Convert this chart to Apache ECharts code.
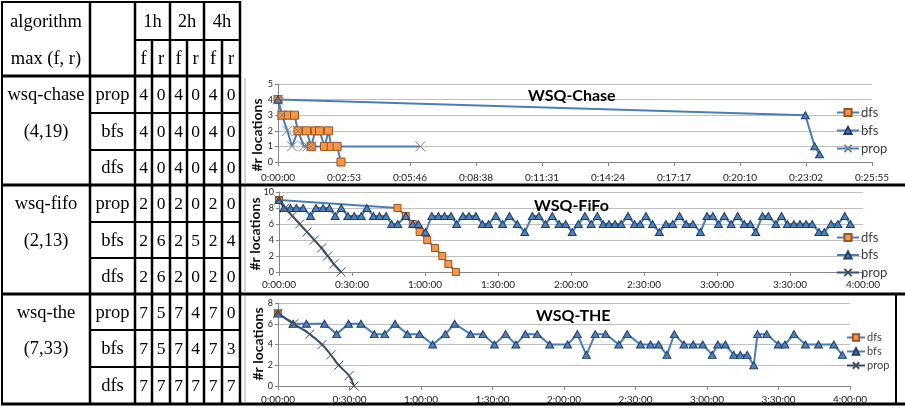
<!DOCTYPE html>
<html>
<head>
<meta charset="utf-8">
<script src="https://cdn.jsdelivr.net/npm/echarts@6/dist/echarts.min.js"></script>
<style>
  html, body { margin: 0; padding: 0; background: #ffffff; }
  #main { width: 905px; height: 408px; }
</style>
</head>
<body>
<div id="main"></div>
<script>
// ---- table content ----
const algorithms = ['wsq-chase', 'wsq-fifo', 'wsq-the'];
const maxFR = ['(4,19)', '(2,13)', '(7,33)'];
const strategies = ['prop', 'bfs', 'dfs'];
const hours = ['1h', '2h', '4h'];
const fr = ['f', 'r'];
// rows: prop, bfs, dfs ; columns: 1h f, 1h r, 2h f, 2h r, 4h f, 4h r
const chaseCounts = [[4, 0, 4, 0, 4, 0], [4, 0, 4, 0, 4, 0], [4, 0, 4, 0, 4, 0]];
const fifoCounts  = [[2, 0, 2, 0, 2, 0], [2, 6, 2, 5, 2, 4], [2, 6, 2, 0, 2, 0]];
const theCounts   = [[7, 5, 7, 4, 7, 0], [7, 5, 7, 4, 7, 3], [7, 7, 7, 7, 7, 7]];
const tableCounts = [chaseCounts, fifoCounts, theCounts];

// ---- chart data: elapsed time in minutes, number of r locations ----
const chaseTitle = 'WSQ-Chase';
const chaseDfsTime = [0, 0.17, 0.45, 0.72, 0.87, 1.24, 1.45, 1.63, 1.81, 2.03, 2.21, 2.32, 2.58, 2.75];
const chaseDfsLoc  = [4, 3, 3, 3, 2, 2, 1, 2, 2, 1, 2, 1, 1, 0];
const chaseBfsTime = [0, 23.01, 23.42, 23.63];
const chaseBfsLoc  = [4, 3, 1, 0.5];
const chasePropTime = [0, 0.17, 0.41, 0.61, 0.87, 1.13, 1.28, 1.45, 6.21];
const chasePropLoc  = [4, 3, 2, 1, 2, 1, 1, 1, 1];

const fifoTitle = 'WSQ-FiFo';
const fifoDfsTime = [0, 48.7, 52.1, 55.0, 57.8, 60.9, 64.1, 67.1, 69.6, 72.7];
const fifoDfsLoc  = [9, 8, 7, 6, 5, 4, 3, 2, 1, 0];
const fifoBfsTime = [0, 2.0, 4.7, 7.1, 9.9, 13.0, 15.2, 18.1, 20.7, 23.1, 25.6, 28.3, 30.9, 33.8, 36.1,
  38.8, 41.3, 44.0, 46.3, 48.8, 52.1, 55.0, 57.3, 60.2, 62.8, 65.5, 68.0, 70.7, 73.0, 75.6, 78.1, 80.9,
  83.6, 86.1, 89.1, 91.9, 94.7, 97.9, 101.0, 104.1, 106.8, 109.5, 112.3, 115.1, 117.8, 120.5, 123.0,
  125.7, 128.3, 130.8, 133.2, 135.6, 138.1, 140.6, 143.4, 146.1, 148.4, 150.8, 153.5, 156.3, 159.0,
  161.8, 164.6, 167.3, 170.1, 173.2, 175.9, 178.3, 180.6, 183.0, 185.8, 188.5, 191.2, 193.7, 195.9,
  198.7, 201.1, 204.2, 206.5, 208.9, 211.6, 214.1, 216.6, 219.1, 221.9, 224.1, 226.9, 229.7, 232.5, 234.8];
const fifoBfsLoc = [9, 8, 8, 8, 8, 7, 8, 8, 8, 7, 8, 7, 7, 7, 8,
  7, 7, 7, 6, 6, 7, 6, 6, 5, 7, 7, 7, 7, 6, 7, 7, 7,
  6, 6, 7, 6, 7, 6, 5, 7, 7, 6, 7, 6, 6, 5, 6,
  7, 6, 7, 6, 6, 6, 6, 7, 6, 6, 7, 6, 5, 6,
  6, 7, 6, 6, 5, 7, 7, 6, 7, 6, 7, 6, 6, 5,
  7, 7, 6, 7, 6, 6, 6, 6, 6, 5, 5, 6, 6, 7, 6];
const fifoPropTime = [0, 2.5, 5.5, 8.5, 11.5, 14.5, 17.5, 20.0, 22.5, 25.5];
const fifoPropLoc  = [9, 8, 7, 6, 5, 4, 3, 2, 1, 0];

const theTitle = 'WSQ-THE';
const theDfsTime = [0];
const theDfsLoc  = [7];
const theBfsTime = [0, 6.3, 11.9, 19.5, 24.6, 29.6, 34.8, 40.4, 44.8, 49.1, 54.3, 59.4, 64.9, 70.2,
  74.1, 80.8, 86.0, 90.8, 95.5, 99.8, 103.8, 108.8, 114.0, 121.5, 125.6, 129.4, 133.1, 137.5, 143.0,
  146.5, 152.1, 156.3, 159.7, 163.2, 166.3, 170.3, 174.2, 178.2, 182.2, 184.5, 187.7, 191.2, 194.0,
  196.9, 199.6, 201.2, 205.1, 209.9, 212.7, 216.5, 221.3, 226.8, 233.2, 236.8];
const theBfsLoc = [7, 6, 6, 6, 5, 6, 6, 5, 5, 6, 5, 5, 4, 5,
  6, 5, 5, 4, 5, 4, 5, 5, 4, 4, 5, 3, 5, 5, 4,
  5, 4, 4, 4, 3, 5, 4, 4, 4, 3, 4, 4, 3, 3,
  3, 2, 5, 5, 4, 4, 5, 4, 4, 4, 3];
const thePropTime = [0, 6.6, 13.3, 18.5, 22.2, 25.5, 29.8, 31.9];
const thePropLoc  = [7, 6, 5, 4, 3, 2, 1, 0];

const seriesKinds = ['dfs', 'bfs', 'prop'];
const yAxisName = '#r locations';

// ---- helpers ----
function pairs(t, v) { return t.map((x, i) => [x, v[i]]); }
function pad2(n) { return (n < 10 ? '0' : '') + n; }
function clock(minutes) {
  const s = Math.round(minutes * 60);
  const h = Math.floor(s / 3600);
  const m = Math.floor((s % 3600) / 60);
  return h + ':' + pad2(m) + ':' + pad2(s % 60);
}

const SERIF = '"Liberation Serif", "DejaVu Serif", serif';
const SANS = 'Lato, "Open Sans", sans-serif';
const BLUE = '#4a7ebb';

// ---- table drawn as graphic elements ----
const colX = [2, 90, 135, 152, 170, 187, 204, 222, 240];
const rowY = [2, 40, 76, 113, 150, 185, 222, 258, 294, 330, 367, 404];
const graphics = [];
function hline(x1, x2, y, w) {
  graphics.push({ type: 'line', silent: true, shape: { x1: x1, y1: y, x2: x2, y2: y },
    style: { stroke: '#000', lineWidth: w } });
}
function vline(x, y1, y2, w, c) {
  graphics.push({ type: 'line', silent: true, shape: { x1: x, y1: y1, x2: x, y2: y2 },
    style: { stroke: c || '#000', lineWidth: w } });
}
function cellText(str, cx, cy, size) {
  graphics.push({ type: 'text', silent: true, x: cx, y: cy,
    style: { text: str, fill: '#000', font: (size || 17) + 'px ' + SERIF,
      align: 'center', verticalAlign: 'middle', textAlign: 'center', textVerticalAlign: 'middle' } });
}

// borders
hline(1, 241, 2, 2);
vline(2, 1, 405, 2);
vline(240, 1, 405, 2.5);
[90, 135, 170, 204].forEach(x => vline(x, 2, 404, 2.5));
[152, 187, 222].forEach(x => vline(x, 40, 404, 2.5));
hline(135, 240, 40, 2);
hline(1, 241, 76, 3);
[113, 150, 222, 258, 330, 367].forEach(y => hline(90, 240, y, 2));
[185, 294, 404].forEach(y => hline(1, 905, y, 3));
vline(896, 294, 404, 2);
// chart frames
vline(245, 78, 184, 1, '#a6a6a6');
vline(245, 187, 293, 1, '#a6a6a6');
vline(245, 296, 403, 1, '#a6a6a6');

const WORD = 18.5, DIGIT = 17.5;
const mid = (a, b) => (a + b) / 2;
cellText('algorithm', mid(colX[0], colX[1]), mid(rowY[0], rowY[1]) + 1, WORD);
cellText('max (f, r)', mid(colX[0], colX[1]), mid(rowY[1], rowY[2]) + 1, WORD);
hours.forEach((h, i) => cellText(h, mid(colX[2 + 2 * i], colX[4 + 2 * i]), mid(rowY[0], rowY[1]) + 1, WORD));
for (let c = 0; c < 6; c++) {
  cellText(fr[c % 2], mid(colX[2 + c], colX[3 + c]), mid(rowY[1], rowY[2]) + 1, WORD);
}
algorithms.forEach((alg, g) => {
  const r0 = 2 + 3 * g;
  cellText(alg, mid(colX[0], colX[1]), mid(rowY[r0], rowY[r0 + 1]) + 1, WORD);
  cellText(maxFR[g], mid(colX[0], colX[1]), mid(rowY[r0 + 1], rowY[r0 + 2]) + 1, WORD);
  strategies.forEach((s, k) => {
    const cy = mid(rowY[r0 + k], rowY[r0 + k + 1]) + 1;
    cellText(s, mid(colX[1], colX[2]), cy, WORD);
    tableCounts[g][k].forEach((v, c) => cellText(String(v), mid(colX[2 + c], colX[3 + c]), cy, DIGIT));
  });
});

// y-axis captions
[[257, 135], [255, 234], [258, 344]].forEach(p => {
  graphics.push({ type: 'text', silent: true, x: p[0], y: p[1], rotation: Math.PI / 2,
    style: { text: yAxisName, fill: '#111', font: 'bold 14px ' + SANS,
      align: 'center', verticalAlign: 'middle', textAlign: 'center', textVerticalAlign: 'middle' } });
});

// ---- charts ----
const grids = [
  { left: 278, right: 33, top: 84, height: 78 },
  { left: 279, right: 42, top: 192, height: 80 },
  { left: 278, right: 55, top: 303, height: 83 }
].map(g => Object.assign({ containLabel: false, outerBoundsMode: 'none' }, g));

const xRanges = [[25.92, 2.88], [240, 30], [240, 30]];
const yRanges = [[5, 1], [10, 2], [8, 2]];
const xLabelMargins = [11, 8, 9];

const xAxes = xRanges.map((r, i) => ({
  type: 'value', gridIndex: i, min: 0, max: r[0], interval: r[1],
  axisLine: { show: true, onZero: false, lineStyle: { color: '#868686', width: 1 } },
  axisTick: { show: true, length: 4, lineStyle: { color: '#868686' } },
  splitLine: { show: false },
  axisLabel: { fontFamily: SANS, fontSize: 10, color: '#1a1a1a', margin: xLabelMargins[i],
    formatter: clock, showMinLabel: true, showMaxLabel: true }
}));
const yAxes = yRanges.map((r, i) => ({
  type: 'value', gridIndex: i, min: 0, max: r[0], interval: r[1],
  axisLine: { show: true, lineStyle: { color: '#868686', width: 1 } },
  axisTick: { show: true, length: 3, lineStyle: { color: '#868686' } },
  splitLine: { show: true, lineStyle: { color: '#bfbfbf', width: 1 } },
  axisLabel: { fontFamily: SANS, fontSize: 9, color: '#1a1a1a', margin: 5 }
}));

const X_MARK = 'path://M0,0L10,10M10,0L0,10';
function dfsSeries(prefix, idx, t, v, size) {
  return { type: 'line', name: prefix + ' dfs', xAxisIndex: idx, yAxisIndex: idx,
    data: pairs(t, v), symbol: 'rect', symbolSize: size, showAllSymbol: true,
    lineStyle: { color: BLUE, width: 2 },
    itemStyle: { color: '#f79646', borderColor: '#9a5520', borderWidth: 1 } };
}
function bfsSeries(prefix, idx, t, v) {
  return { type: 'line', name: prefix + ' bfs', xAxisIndex: idx, yAxisIndex: idx,
    data: pairs(t, v), symbol: 'triangle', symbolSize: [8, 7], showAllSymbol: true,
    lineStyle: { color: BLUE, width: 2 },
    itemStyle: { color: '#4f81bd', borderColor: '#1f3d66', borderWidth: 1 } };
}
function propSeries(prefix, idx, t, v, lineColor, markColor, smooth, size) {
  return { type: 'line', name: prefix + ' prop', xAxisIndex: idx, yAxisIndex: idx,
    data: pairs(t, v), symbol: X_MARK, symbolSize: size, showAllSymbol: true, smooth: smooth,
    lineStyle: { color: lineColor, width: 2 },
    itemStyle: { color: lineColor, borderColor: markColor, borderWidth: 1 } };
}

const series = [
  dfsSeries('chase', 0, chaseDfsTime, chaseDfsLoc, 8),
  bfsSeries('chase', 0, chaseBfsTime, chaseBfsLoc),
  propSeries('chase', 0, chasePropTime, chasePropLoc, BLUE, '#808080', false, 10),
  dfsSeries('fifo', 1, fifoDfsTime, fifoDfsLoc, 7),
  bfsSeries('fifo', 1, fifoBfsTime, fifoBfsLoc),
  propSeries('fifo', 1, fifoPropTime, fifoPropLoc, '#2b4f81', '#4d4d4d', 0.2, 9),
  dfsSeries('the', 2, theDfsTime, theDfsLoc, 7),
  bfsSeries('the', 2, theBfsTime, theBfsLoc),
  propSeries('the', 2, thePropTime, thePropLoc, '#2b4f81', '#4d4d4d', 0.3, 9)
];

function legendFor(prefix, left, top, fontSize, itemH, gap, itemW) {
  return { orient: 'vertical', left: left, top: top, padding: 0, itemGap: gap,
    itemWidth: itemW, itemHeight: itemH,
    data: seriesKinds.map(k => prefix + ' ' + k),
    formatter: n => n.split(' ')[1],
    textStyle: { fontFamily: SANS, fontSize: fontSize, color: '#404040', padding: [0, 0, 0, -3] } };
}

const titleStyle = { fontFamily: SANS, fontWeight: 'bold', fontSize: 16, color: '#000' };

const chart = echarts.init(document.getElementById('main'), null, { renderer: 'canvas' });
chart.setOption({
  animation: false,
  backgroundColor: '#ffffff',
  title: [
    { text: chaseTitle, left: 528, top: 88, padding: 0, textStyle: titleStyle },
    { text: fifoTitle, left: 534, top: 198, padding: 0, textStyle: titleStyle },
    { text: theTitle, left: 536, top: 308, padding: 0, textStyle: titleStyle }
  ],
  legend: [
    legendFor('chase', 836, 106, 13, 9, 5, 22),
    legendFor('fifo', 836, 231, 13, 9, 4.5, 22),
    legendFor('the', 846, 332, 11, 8, 3, 18)
  ],
  grid: grids,
  xAxis: xAxes,
  yAxis: yAxes,
  series: series,
  graphic: { elements: graphics }
});
</script>
</body>
</html>
